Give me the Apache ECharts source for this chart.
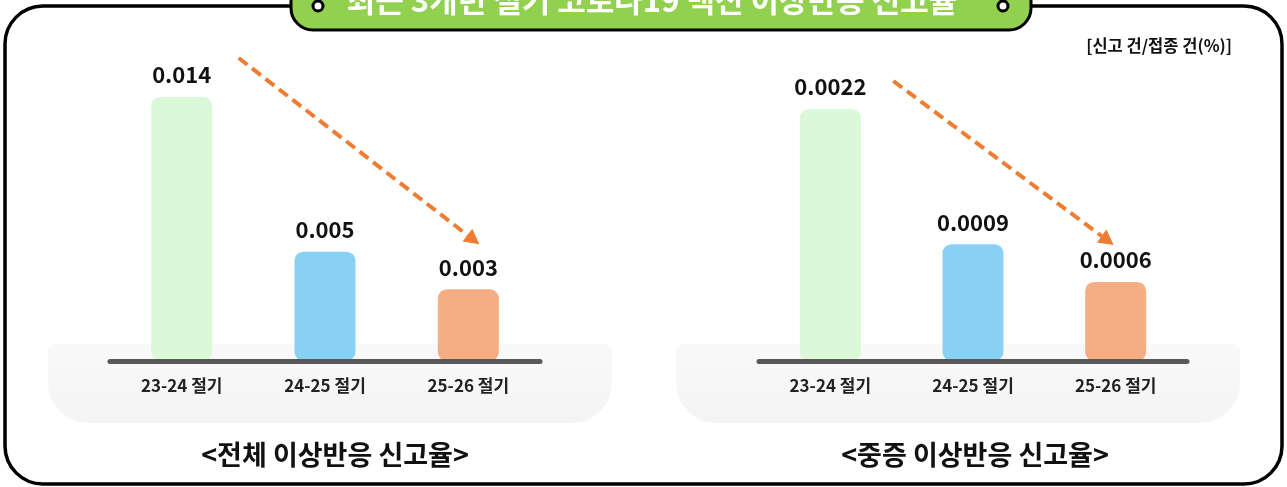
<!DOCTYPE html>
<html><head><meta charset="utf-8">
<script src="https://cdn.jsdelivr.net/npm/echarts@6/dist/echarts.min.js"></script>
<style>html,body{margin:0;padding:0;background:#fff}#c{width:1287px;height:487px}</style>
</head><body><div id="c"></div>
<script>
var categories = ['23-24 절기', '24-25 절기', '25-26 절기'];
var totalLabels = ['0.014', '0.005', '0.003'];
var totalValues = [0.014, 0.0058, 0.0038];
var severeLabels = ['0.0022', '0.0009', '0.0006'];
var severeValues = [0.0022, 0.00102, 0.00069];
var barColors = ['#dbf8d9', '#89d1f3', '#f5ae83'];
var mainTitle = '최근 3개년 절기 코로나19 백신 이상반응 신고율';
var leftTitle = '<전체 이상반응 신고율>';
var rightTitle = '<중증 이상반응 신고율>';
var unitText = '[신고 건/접종 건(%)]';

var FONT = '"Noto Sans CJK KR", "Noto Sans", sans-serif';
var chart = echarts.init(document.getElementById('c'), null, {renderer: 'canvas'});

function mkSeries(idx, vals, labels) {
  return {
    type: 'bar', xAxisIndex: idx, yAxisIndex: idx, barWidth: 61, z: 2,
    data: vals.map(function (v, i) { return {value: v, itemStyle: {color: barColors[i]}}; }),
    itemStyle: {borderRadius: 9},
    label: {show: true, position: 'top', distance: 11, fontFamily: FONT, fontSize: 22, fontWeight: 'bold', color: '#111',
      formatter: function (p) { return labels[p.dataIndex]; }},
    silent: true
  };
}
function mkX(idx) {
  return {type: 'category', gridIndex: idx, data: categories, z: 5,
    axisLine: {lineStyle: {color: '#595959', width: 5, cap: 'round'}},
    axisTick: {show: false},
    axisLabel: {margin: 16, fontFamily: FONT, fontSize: 17, fontWeight: 'bold', color: '#222'}};
}
function mkY(idx, max) {
  return {type: 'value', gridIndex: idx, min: 0, max: max, show: false, splitLine: {show: false}};
}

var option = {
  animation: false,
  backgroundColor: '#fff',
  grid: [
    {left: 110, width: 430, top: 97, bottom: 126},
    {left: 759, width: 428, top: 109, bottom: 126}
  ],
  xAxis: [mkX(0), mkX(1)],
  yAxis: [mkY(0, totalValues[0]), mkY(1, severeValues[0])],
  series: [mkSeries(0, totalValues, totalLabels), mkSeries(1, severeValues, severeLabels)],
  title: [
    {text: leftTitle, left: 330, top: 436, textAlign: 'center', textStyle: {fontFamily: FONT, fontSize: 27, fontWeight: 'bold', color: '#111'}},
    {text: rightTitle, left: 970, top: 436, textAlign: 'center', textStyle: {fontFamily: FONT, fontSize: 27, fontWeight: 'bold', color: '#111'}}
  ],
  graphic: [
    {type: 'rect', z: -10, shape: {x: 48, y: 344, width: 564, height: 79, r: [6, 6, 40, 40]},
      style: {fill: new echarts.graphic.LinearGradient(0, 0, 0, 1, [{offset: 0, color: '#f9f9f9'}, {offset: 1, color: '#f4f4f4'}])}},
    {type: 'rect', z: -10, shape: {x: 676, y: 344, width: 564, height: 79, r: [6, 6, 40, 40]},
      style: {fill: new echarts.graphic.LinearGradient(0, 0, 0, 1, [{offset: 0, color: '#f9f9f9'}, {offset: 1, color: '#f4f4f4'}])}},
    {type: 'rect', z: 1, shape: {x: 5, y: 6, width: 1277, height: 478, r: 38},
      style: {fill: 'none', stroke: '#000', lineWidth: 3.5}},
    {type: 'rect', z: 10, shape: {x: 291, y: -25, width: 740, height: 55, r: 22},
      style: {fill: '#92d050', stroke: '#000', lineWidth: 3}},
    {type: 'circle', z: 11, shape: {cx: 318, cy: 6, r: 5}, style: {fill: '#fff', stroke: '#000', lineWidth: 3}},
    {type: 'circle', z: 11, shape: {cx: 1003, cy: 6, r: 5}, style: {fill: '#fff', stroke: '#000', lineWidth: 3}},
    {type: 'text', z: 11, style: {text: mainTitle, x: 652, y: 0, align: 'center', verticalAlign: 'middle',
      font: 'bold 31px ' + FONT, fill: '#fff'}},
    {type: 'text', z: 11, style: {text: unitText, x: 1232, y: 46, align: 'right', verticalAlign: 'middle',
      font: 'bold 16.5px ' + FONT, fill: '#111'}}
  ]
};
chart.setOption(option);

function arrow(idx, vals, sdx, sdy, edx, edy) {
  var p0 = chart.convertToPixel({gridIndex: idx}, [0, vals[0]]);
  var p2 = chart.convertToPixel({gridIndex: idx}, [2, vals[2]]);
  var x1 = p0[0] + sdx, y1 = p0[1] + sdy, x2 = p2[0] + edx, y2 = p2[1] + edy;
  var ang = Math.atan2(y2 - y1, x2 - x1);
  var L = 15, W = 8;
  var bx = x2 - L * Math.cos(ang), by = y2 - L * Math.sin(ang);
  var nx = -Math.sin(ang), ny = Math.cos(ang);
  return [
    {type: 'line', z: 20, shape: {x1: x1, y1: y1, x2: bx, y2: by},
      style: {stroke: '#ed7d31', lineWidth: 4, lineDash: [11, 6]}},
    {type: 'polygon', z: 20, shape: {points: [[x2, y2], [bx + nx * W, by + ny * W], [bx - nx * W, by - ny * W]]},
      style: {fill: '#ed7d31'}}
  ];
}
var arrows = arrow(0, totalValues, 57, -39, 11, -45).concat(arrow(1, severeValues, 63, -28, -2, -37));
chart.setOption({graphic: option.graphic.concat(arrows)});
</script></body></html>
